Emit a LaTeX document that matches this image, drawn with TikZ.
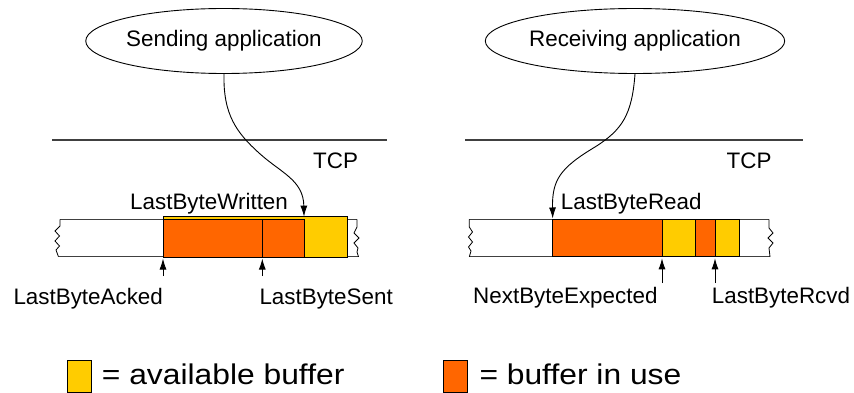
\documentclass[tikz,border=0pt]{standalone}
\usepackage{fontspec}
\setmainfont{Liberation Sans}
\usetikzlibrary{arrows.meta,shapes.geometric}
\definecolor{inuse}{HTML}{FF6600}
\definecolor{avail}{HTML}{FFCC00}
\begin{document}
\begin{tikzpicture}[x=1pt,y=-1pt,
  lbl/.style={inner sep=0pt,anchor=base west,font=\fontsize{22.4}{26}\selectfont},
  app/.style={draw,ellipse,line width=0.9pt,minimum width=243pt,minimum height=65pt,inner sep=0pt,font=\fontsize{22.4}{26}\selectfont},
  ptr/.style={line width=0.9pt,-{Latex[length=11pt,width=7pt]}},
  bufline/.style={line width=1.2pt,draw=black!75},
  zig/.style={line width=0.8pt},
  cell/.style={draw=black,line width=0.9pt},
  layer/.style={line width=1.1pt,draw=black!75},
  legtxt/.style={inner sep=0pt,anchor=base west,font=\fontsize{30}{34}\selectfont}]
\useasboundingbox (0,0) rectangle (854,393);
\fill[white] (0,0) rectangle (854,393);

% ---------- sender ----------
\node[app] (sapp) at (224,41) {Sending application};
\draw[layer] (52,140) -- (387,140);
\node[lbl] (stcp) at (313,168.5) {TCP};

% buffer outline
\draw[bufline] (60,219.3) -- (357,219.3);
\draw[bufline] (58.5,256.8) -- (358.5,256.8);
\draw[zig] (60,219.3) -- (60,226) -- (55,231) -- (59.5,236) -- (55,241) -- (59.5,246) -- (56,250) -- (58.5,256.8);
\draw[zig] (357,219.3) -- (357,227) -- (354,233) -- (359,238) -- (354,243) -- (358,248) -- (357,252) -- (358.5,256.8);
% cells
\draw[cell,fill=avail] (163,216.7) rectangle (347.7,257);
\draw[cell,fill=inuse] (163,219.8) rectangle (304,257);
\draw[cell] (262.3,219.8) -- (262.3,257);
\coordinate (swtop) at (304,216.7);
\coordinate (sacked) at (163,258.5);
\coordinate (ssent) at (262.3,258.5);
\coordinate (sackedb) at (163,276);
\coordinate (ssentb) at (262.3,276);

\node[lbl] (lbw) at (130,209) {LastByteWritten};
\node[lbl] (lba) at (13.3,304) {LastByteAcked};
\node[lbl] (lbs) at (259.3,304) {LastByteSent};

\draw[ptr] (sapp.south) .. controls (223,115) and (237,133) .. (259,153)
  .. controls (281,173) and (303.5,180) .. (swtop);
\draw[ptr] (sackedb) -- (sacked);
\draw[ptr] (ssentb) -- (ssent);

% ---------- receiver ----------
\node[app] (rapp) at (635,41) {Receiving application};
\draw[layer] (465,140) -- (803,140);
\node[lbl] (rtcp) at (726.5,168.5) {TCP};

\draw[bufline] (469.3,219.3) -- (769,219.3);
\draw[bufline] (469.3,256.8) -- (770,256.8);
\draw[zig] (469.3,219.3) -- (469.3,227) -- (472.5,232) -- (468.5,237) -- (472.5,242) -- (468.5,247) -- (471,251) -- (469.3,256.8);
\draw[zig] (769,219.3) -- (769,228) -- (773,233) -- (768,238) -- (773,243) -- (769,248) -- (770,256.8);

\draw[cell,fill=inuse] (552.7,219.3) rectangle (662.7,256.8);
\draw[cell,fill=avail] (662.7,219.8) rectangle (695,256.8);
\draw[cell,fill=inuse] (695,219.3) rectangle (715,256.8);
\draw[cell,fill=avail] (715,219.8) rectangle (739.3,256.8);
\coordinate (rrtop) at (552.7,218.5);
\coordinate (rnext) at (662,258.3);
\coordinate (rrcvd) at (715,258.3);
\coordinate (rnextb) at (662,283);
\coordinate (rrcvdb) at (715,283);

\node[lbl] (lbr) at (560.7,209.3) {LastByteRead};
\node[lbl] (nbe) at (473,303.5) {NextByteExpected};
\node[lbl] (lbrc) at (711.7,303.5) {LastByteRcvd};

\draw[ptr] (rapp.south) .. controls (632,115) and (622,130) .. (595,147)
  .. controls (560,168) and (552,180) .. (rrtop);
\draw[ptr] (rnextb) -- (rnext);
\draw[ptr] (rrcvdb) -- (rrcvd);

% ---------- legend ----------
\draw[cell,fill=avail] (67.3,360) rectangle (91.7,392.3);
\node[legtxt] (leg1) at (101.7,384) {\scalebox{1.06}[0.95]{= available buffer}};
\draw[cell,fill=inuse] (443.3,360) rectangle (467.3,392.3);
\node[legtxt] (leg2) at (479.3,384) {\scalebox{1.06}[0.95]{= buffer in use}};
\end{tikzpicture}
\end{document}
